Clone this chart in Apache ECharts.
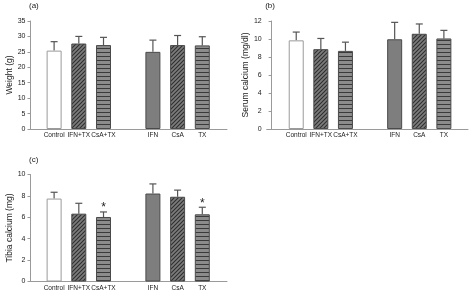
<!DOCTYPE html>
<html>
<head>
<meta charset="utf-8">
<script src="https://cdn.jsdelivr.net/npm/echarts@6/dist/echarts.min.js"></script>
<style>
  html, body { margin: 0; padding: 0; background: #fff; }
  #chart { width: 469px; height: 292px; }
</style>
</head>
<body>
<div id="chart"></div>
<script>
// group names and their slot on the x axis (slot 4 is the empty gap)
const groups = ['Control', 'IFN+TX', 'CsA+TX', 'IFN', 'CsA', 'TX'];
const slots = [1, 2, 3, 5, 6, 7];

// (a) body weight, g
const weight = [25.4, 27.7, 27.2, 25.0, 27.2, 27.1];
const weightErr = [2.9, 2.3, 2.5, 3.8, 3.1, 2.8];

// (b) serum calcium, mg/dl
const serum = [9.85, 8.87, 8.68, 9.97, 10.58, 10.06];
const serumErr = [0.92, 1.19, 0.97, 1.88, 1.09, 0.9];

// (c) tibia calcium, mg
const tibia = [7.75, 6.34, 6.03, 8.22, 7.92, 6.28];
const tibiaErr = [0.59, 0.97, 0.47, 0.9, 0.62, 0.66];
const tibiaSig = ['', '', '*', '', '', '*'];

const font = 'Liberation Sans, Arial, sans-serif';

// fill patterns
function hatch() {
  const c = document.createElement('canvas');
  c.width = 4; c.height = 4;
  const g = c.getContext('2d');
  g.fillStyle = '#7c7c7c';
  g.fillRect(0, 0, 4, 4);
  g.strokeStyle = '#2f2f2f';
  g.lineWidth = 1.1;
  g.beginPath();
  g.moveTo(-1, 5); g.lineTo(5, -1);
  g.moveTo(-1, 1); g.lineTo(1, -1);
  g.moveTo(3, 5); g.lineTo(5, 3);
  g.stroke();
  return { image: c, repeat: 'repeat' };
}
function stripes() {
  const c = document.createElement('canvas');
  c.width = 4; c.height = 4;
  const g = c.getContext('2d');
  g.fillStyle = '#8c8c8c';
  g.fillRect(0, 0, 4, 4);
  g.fillStyle = '#3a3a3a';
  g.fillRect(0, 0, 4, 1);
  return { image: c, repeat: 'repeat' };
}
const fills = ['#ffffff', hatch(), stripes(), '#7e7e7e', hatch(), stripes()];
const borders = ['#9a9a9a', '#4a4a4a', '#4a4a4a', '#4a4a4a', '#4a4a4a', '#4a4a4a'];

const panels = [
  { tag: '(a)', name: 'Weight (g)', vals: weight, err: weightErr, sig: null, max: 35, step: 5,
    left: 30.5, top: 21, width: 196.5, height: 108, xmin: 0.044, xmax: 8, gap: 11 },
  { tag: '(b)', name: 'Serum calcium (mg/dl)', vals: serum, err: serumErr, sig: null, max: 12, step: 2,
    left: 266.7, top: 21, width: 201.3, height: 108, xmin: -0.2, xmax: 7.98, gap: 12 },
  { tag: '(c)', name: 'Tibia calcium (mg)', vals: tibia, err: tibiaErr, sig: tibiaSig, max: 10, step: 2,
    left: 30.5, top: 174.5, width: 196.5, height: 107, xmin: 0.044, xmax: 8, gap: 11 }
];

const grid = [], xAxis = [], yAxis = [], series = [], title = [];

panels.forEach((p, k) => {
  grid.push({ left: p.left, top: p.top, width: p.width, height: p.height });
  title.push({ text: p.tag, left: p.left - 1.5, top: p.top - 19, padding: 0,
    textStyle: { fontFamily: font, fontSize: 8, fontWeight: 'normal', color: '#222' } });
  xAxis.push({
    type: 'value', gridIndex: k, min: p.xmin, max: p.xmax,
    axisLine: { lineStyle: { color: '#9a9a9a', width: 1 } },
    axisTick: { show: false },
    splitLine: { show: false },
    axisLabel: {
      customValues: slots,
      formatter: v => groups[slots.indexOf(v)] || '',
      fontFamily: font, fontSize: 6.5, color: '#222', margin: 3
    }
  });
  yAxis.push({
    type: 'value', gridIndex: k, min: 0, max: p.max, interval: p.step,
    name: p.name, nameLocation: 'middle', nameGap: p.gap,
    nameTextStyle: { fontFamily: font, fontSize: 8.5, color: '#222' },
    axisLine: { show: true, lineStyle: { color: '#9a9a9a', width: 1 } },
    axisTick: { show: true, length: 3, lineStyle: { color: '#9a9a9a' } },
    splitLine: { show: false },
    axisLabel: { fontFamily: font, fontSize: 7, color: '#222', margin: 5 }
  });
  series.push({
    type: 'bar', xAxisIndex: k, yAxisIndex: k, barWidth: 15, silent: true,
    data: p.vals.map((v, i) => ({
      value: [slots[i], v],
      itemStyle: { color: fills[i], borderColor: borders[i], borderWidth: 1 }
    }))
  });
  series.push({
    type: 'custom', xAxisIndex: k, yAxisIndex: k, silent: true,
    data: p.vals.map((v, i) => [slots[i], v, v + p.err[i], i]),
    renderItem: (params, api) => {
      const x = api.value(0);
      const lo = api.coord([x, api.value(1)]);
      const hi = api.coord([x, api.value(2)]);
      const s = { stroke: '#555', lineWidth: 1.2 };
      const kids = [
        { type: 'line', shape: { x1: lo[0], y1: lo[1], x2: hi[0], y2: hi[1] }, style: s },
        { type: 'line', shape: { x1: hi[0] - 3.5, y1: hi[1], x2: hi[0] + 3.5, y2: hi[1] }, style: s }
      ];
      const mark = p.sig ? p.sig[api.value(3)] : '';
      if (mark) {
        kids.push({ type: 'text', x: hi[0], y: hi[1] + 2,
          style: { text: mark, fontFamily: font, fontSize: 12, fill: '#222', align: 'center', verticalAlign: 'bottom' } });
      }
      return { type: 'group', children: kids };
    }
  });
});

const chart = echarts.init(document.getElementById('chart'), null, { renderer: 'canvas' });
chart.setOption({ animation: false, title, grid, xAxis, yAxis, series });
</script>
</body>
</html>
